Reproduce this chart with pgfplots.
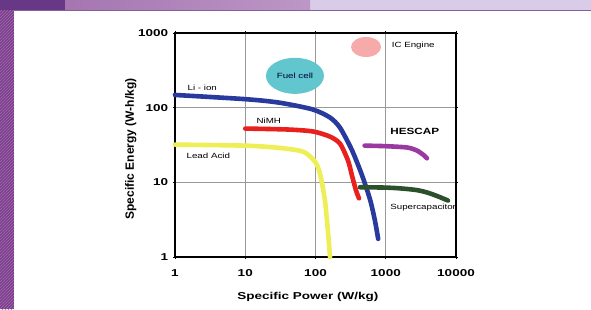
\documentclass[border=0pt]{standalone}
\usepackage{pgfplots}
\pgfplotsset{compat=1.18}
\usepackage{fontspec}
\setmainfont{Liberation Sans}
\usetikzlibrary{patterns}
\definecolor{liblue}{RGB}{40,58,158}
\definecolor{nired}{RGB}{232,32,30}
\definecolor{payel}{RGB}{238,238,86}
\definecolor{hespur}{RGB}{154,58,160}
\definecolor{scgreen}{RGB}{44,80,44}
\definecolor{fccyan}{RGB}{98,198,207}
\definecolor{icpink}{RGB}{246,170,170}
\definecolor{stripe}{RGB}{126,62,142}
\definecolor{topdark}{RGB}{104,56,134}
\definecolor{topmid}{RGB}{176,128,184}
\definecolor{toplight}{RGB}{216,204,232}
\begin{document}
\begin{tikzpicture}[x=1pt,y=1pt]
\useasboundingbox (0,0) rectangle (591,309);
\fill[white] (0,0) rectangle (591,309);
\fill[stripe] (0,0) rectangle (14,309);
\fill[pattern=north east lines, pattern color=stripe!75!white] (0,0) rectangle (14,309);
\fill[toplight] (14,299) rectangle (591,309);
\shade[left color=topmid!85!topdark, right color=topmid!70!toplight] (65,299) rectangle (310,309);
\fill[topdark] (0,299) rectangle (65,309);
\draw[topdark!80, line width=0.8pt] (14,298.6) -- (591,298.6);
\begin{axis}[
  at={(175pt,52pt)}, anchor=south west,
  scale only axis, width=281pt, height=224pt,
  xmode=log, ymode=log,
  xmin=1, xmax=10000, ymin=1, ymax=1000,
  xtick={1,10,100,1000,10000}, xticklabels={1,10,100,1000,10000},
  ytick={1,10,100,1000}, yticklabels={1,10,100,1000},
  xminorticks=false, yminorticks=false,
  grid=major, major grid style={gray!80, line width=0.6pt},
  axis line style={line width=1.6pt, black},
  major tick length=2pt, tick style={black, line width=0.8pt},
  tick align=outside,
  ticklabel style={font=\fontsize{10}{10}\selectfont\bfseries},
  xticklabel style={xscale=1.35, yshift=-7pt},
  yticklabel style={xscale=1.35},
  xlabel={Specific Power (W/kg)},
  ylabel={Specific Energy (W-h/kg)},
  xlabel style={font=\fontsize{10}{10}\selectfont\bfseries, xscale=1.35, at={(axis description cs:0.473,-0.179)}, anchor=center},
  ylabel style={font=\fontsize{12}{12}\selectfont\bfseries, at={(axis description cs:-0.157,0.482)}, anchor=center},
  clip=false,
  every axis plot/.append style={line cap=round, line join=round, line width=4.6pt, smooth, tension=0.45},
]
\fill[fccyan] (axis cs:51,267) ellipse [x radius=29pt, y radius=18pt];
\fill[icpink] (axis cs:524,650) ellipse [x radius=15pt, y radius=10pt];
\node[font=\fontsize{7.5}{8}\selectfont, xscale=1.3, text=black!80!blue] at (axis cs:51,267) {Fuel cell};

% Li-ion
\addplot[liblue] coordinates {(1,148) (10,130) (30,117) (90,95) (160,74) (223,54) (330,27) (460,12.4) (600,5.8) (700,3.1) (780,1.75)};
% NiMH
\addplot[nired] coordinates {(10,52.5) (40,51) (92,48) (160,41) (223,33) (290,19.6) (330,12.4) (377,7.8) (416,6.1)};
% Lead Acid
\addplot[payel] coordinates {(1,32) (10,31) (30,29) (60,26.5) (76,24) (100,18.5) (116,13) (136,5.8) (151,2.1) (161,1)};
% HESCAP
\addplot[hespur] coordinates {(500,31) (1000,30.5) (2000,29.3) (2700,27) (3100,25) (3500,23) (3850,21)};
% Supercapacitor
\addplot[scgreen] coordinates {(430,8.6) (1000,8.5) (1600,8.3) (2700,7.9) (3900,7.3) (5500,6.5) (7700,5.7)};

\node[anchor=west, font=\fontsize{7.5}{8}\selectfont, xscale=1.3] at (axis cs:1.3,185) {Li - ion};
\node[anchor=west, font=\fontsize{7.5}{8}\selectfont, xscale=1.3] at (axis cs:12.5,67) {NiMH};
\node[anchor=west, font=\fontsize{7.5}{8}\selectfont, xscale=1.3] at (axis cs:1.26,22.9) {Lead Acid};
\node[anchor=west, font=\fontsize{9}{9}\selectfont\bfseries, xscale=1.3] at (axis cs:1000,47.9) {HESCAP};
\node[anchor=west, font=\fontsize{7.5}{8}\selectfont, xscale=1.3] at (axis cs:1000,4.6) {Supercapacitor};
\node[anchor=west, font=\fontsize{7.5}{8}\selectfont, xscale=1.3] at (axis cs:1050,671) {IC Engine};
\end{axis}
\end{tikzpicture}
\end{document}
